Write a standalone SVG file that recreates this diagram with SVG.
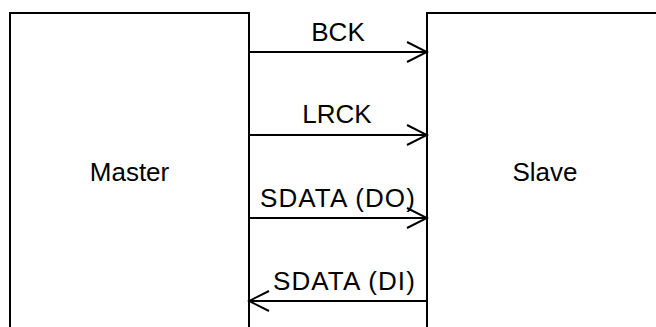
<svg xmlns="http://www.w3.org/2000/svg" width="656" height="327" viewBox="0 0 656 327">
  <style>
    .box { fill: #ffffff; stroke: #000000; stroke-width: 2; }
    .sig { fill: none; stroke: #000000; stroke-width: 2; }
    .lbl { font-family: "Liberation Sans", Arial, sans-serif; font-size: 26px; fill: #000000; }
    .wide { letter-spacing: 1.1px; }
  </style>
  <defs>
    <marker id="open-arrow" markerUnits="userSpaceOnUse" markerWidth="24" markerHeight="24" viewBox="-22 -12 24 24" refX="0" refY="0" orient="auto">
      <path d="M -20 -10 L 0 0 L -20 10" fill="none" stroke="#000000" stroke-width="2"/>
    </marker>
  </defs>
  <rect width="656" height="327" fill="#ffffff"/>

  <g id="master">
    <rect class="box" x="10" y="13" width="239" height="330"/>
    <text class="lbl" x="129.5" y="181" text-anchor="middle">Master</text>
  </g>

  <g id="slave">
    <rect class="box" x="427" y="13" width="250" height="330"/>
    <text class="lbl" x="545" y="181" text-anchor="middle">Slave</text>
  </g>

  <g id="connectors">
    <line class="sig" x1="249" y1="52" x2="427" y2="52" marker-end="url(#open-arrow)"/>
    <text class="lbl" x="338" y="41" text-anchor="middle">BCK</text>

    <line class="sig" x1="249" y1="135" x2="427" y2="135" marker-end="url(#open-arrow)"/>
    <text class="lbl" x="337" y="123" text-anchor="middle">LRCK</text>

    <line class="sig" x1="249" y1="218" x2="427" y2="218" marker-end="url(#open-arrow)"/>
    <text class="lbl wide" x="260" y="207">SDATA (DO)</text>

    <line class="sig" x1="427" y1="301" x2="249" y2="301" marker-end="url(#open-arrow)"/>
    <text class="lbl wide" x="273" y="290">SDATA (DI)</text>
  </g>
</svg>
